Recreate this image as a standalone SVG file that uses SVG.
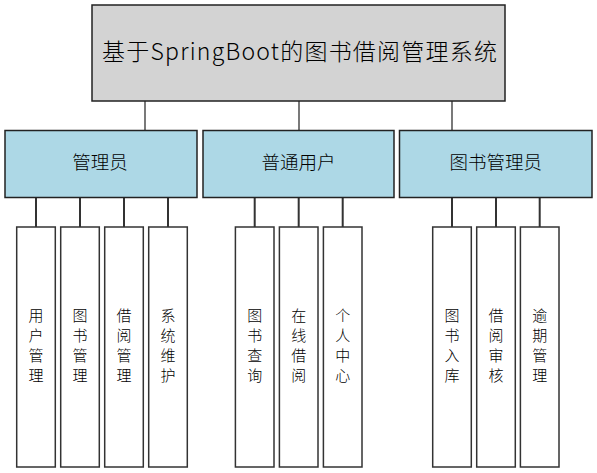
<svg xmlns="http://www.w3.org/2000/svg" width="597" height="473" viewBox="0 0 597 473">
<style>
text{font-family:"Noto Sans CJK SC","Microsoft YaHei",sans-serif;font-weight:300;fill:#000;text-anchor:middle}
.root{fill:#d3d3d3;stroke:#222;stroke-width:1.5}
.mid{fill:#add8e6;stroke:#222;stroke-width:1.5}
.leaf{fill:#fff;stroke:#333;stroke-width:1.5}
.t1{font-size:23px}
.t2{font-size:18.5px}
.t3{font-size:15px}
.c1{stroke:#222;stroke-width:1.2;fill:none}
.c2{stroke:#333;stroke-width:2;fill:none}
</style>
<rect width="597" height="473" fill="#fff"/>
<g id="connectors">
<path class="c1" d="M145 101V130.5M299 101V130.5M452 101V130.5"/>
<path class="c2" d="M36 197.5V227M80 197.5V227M124 197.5V227M168 197.5V227"/>
<path class="c2" d="M254.7 197.5V227M298.7 197.5V227M342.7 197.5V227"/>
<path class="c2" d="M452 197.5V227M496 197.5V227M539.7 197.5V227"/>
</g>
<g id="root">
<rect class="root" x="92" y="5" width="413" height="96"/>
<text class="t1" x="299.5" y="59.5" textLength="395" lengthAdjust="spacing">基于SpringBoot的图书借阅管理系统</text>
</g>
<g id="admin">
<rect class="mid" x="5" y="130.5" width="192" height="67"/>
<text class="t2" x="100" y="169">管理员</text>
</g>
<g id="user">
<rect class="mid" x="203" y="130.5" width="191" height="67"/>
<text class="t2" x="298.5" y="169">普通用户</text>
</g>
<g id="librarian">
<rect class="mid" x="399.5" y="130.5" width="192.5" height="67"/>
<text class="t2" x="495.7" y="169">图书管理员</text>
</g>
<g id="leaf-user-mgmt">
<rect class="leaf" x="16.7" y="227" width="38.6" height="240"/>
<text class="t3" x="36" y="321.3"><tspan x="36">用</tspan><tspan x="36" dy="19.8">户</tspan><tspan x="36" dy="19.8">管</tspan><tspan x="36" dy="19.8">理</tspan></text>
</g>
<g id="leaf-book-mgmt">
<rect class="leaf" x="60.7" y="227" width="38.6" height="240"/>
<text class="t3" x="80" y="321.3"><tspan x="80">图</tspan><tspan x="80" dy="19.8">书</tspan><tspan x="80" dy="19.8">管</tspan><tspan x="80" dy="19.8">理</tspan></text>
</g>
<g id="leaf-borrow-mgmt">
<rect class="leaf" x="104.7" y="227" width="38.6" height="240"/>
<text class="t3" x="124" y="321.3"><tspan x="124">借</tspan><tspan x="124" dy="19.8">阅</tspan><tspan x="124" dy="19.8">管</tspan><tspan x="124" dy="19.8">理</tspan></text>
</g>
<g id="leaf-sys-maint">
<rect class="leaf" x="148.7" y="227" width="38.6" height="240"/>
<text class="t3" x="168" y="321.3"><tspan x="168">系</tspan><tspan x="168" dy="19.8">统</tspan><tspan x="168" dy="19.8">维</tspan><tspan x="168" dy="19.8">护</tspan></text>
</g>
<g id="leaf-book-query">
<rect class="leaf" x="235.4" y="227" width="38.6" height="240"/>
<text class="t3" x="254.7" y="321.3"><tspan x="254.7">图</tspan><tspan x="254.7" dy="19.8">书</tspan><tspan x="254.7" dy="19.8">查</tspan><tspan x="254.7" dy="19.8">询</tspan></text>
</g>
<g id="leaf-online-borrow">
<rect class="leaf" x="279.4" y="227" width="38.6" height="240"/>
<text class="t3" x="298.7" y="321.3"><tspan x="298.7">在</tspan><tspan x="298.7" dy="19.8">线</tspan><tspan x="298.7" dy="19.8">借</tspan><tspan x="298.7" dy="19.8">阅</tspan></text>
</g>
<g id="leaf-personal">
<rect class="leaf" x="323.4" y="227" width="38.6" height="240"/>
<text class="t3" x="342.7" y="321.3"><tspan x="342.7">个</tspan><tspan x="342.7" dy="19.8">人</tspan><tspan x="342.7" dy="19.8">中</tspan><tspan x="342.7" dy="19.8">心</tspan></text>
</g>
<g id="leaf-stock-in">
<rect class="leaf" x="432.7" y="227" width="38.6" height="240"/>
<text class="t3" x="452" y="321.3"><tspan x="452">图</tspan><tspan x="452" dy="19.8">书</tspan><tspan x="452" dy="19.8">入</tspan><tspan x="452" dy="19.8">库</tspan></text>
</g>
<g id="leaf-borrow-review">
<rect class="leaf" x="476.7" y="227" width="38.6" height="240"/>
<text class="t3" x="496" y="321.3"><tspan x="496">借</tspan><tspan x="496" dy="19.8">阅</tspan><tspan x="496" dy="19.8">审</tspan><tspan x="496" dy="19.8">核</tspan></text>
</g>
<g id="leaf-overdue">
<rect class="leaf" x="520.4" y="227" width="38.6" height="240"/>
<text class="t3" x="539.7" y="321.3"><tspan x="539.7">逾</tspan><tspan x="539.7" dy="19.8">期</tspan><tspan x="539.7" dy="19.8">管</tspan><tspan x="539.7" dy="19.8">理</tspan></text>
</g>
</svg>
